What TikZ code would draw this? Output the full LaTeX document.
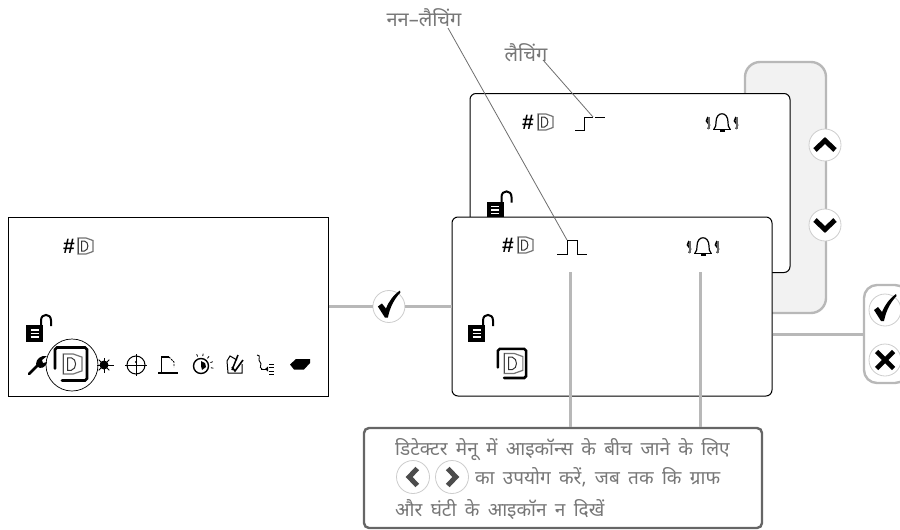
\documentclass[tikz,border=0pt]{standalone}
\usepackage{fontspec}
\setmainfont{Liberation Sans}
\newfontfamily\hindi[Script=Devanagari]{Noto Sans}
\newfontfamily\hindiwide[Script=Devanagari,WordSpace=1.69]{Noto Sans}
\usetikzlibrary{positioning}
\definecolor{wiregray}{HTML}{B8B8B8}
\definecolor{leadgray}{HTML}{6E6E6E}
\definecolor{textgray}{HTML}{777777}
\definecolor{panelgray}{HTML}{F2F2F2}
\definecolor{framegray}{HTML}{666666}

\tikzset{
  screen/.style={draw=black, fill=white, line width=1pt, minimum width=320pt, minimum height=179pt, inner sep=0pt},
  wire/.style={draw=wiregray, line width=3pt},
  lead/.style={draw=leadgray, line width=0.8pt},
  softkey/.style={circle, draw=wiregray!70, fill=white, line width=0.8pt, minimum size=32pt, inner sep=0pt},
  tag/.style={font=\hindi\fontsize{20}{20}\selectfont, text=textgray, inner sep=0pt},
  note/.style={font=\hindiwide\fontsize{19}{19}\selectfont, text=textgray, inner sep=0pt, anchor=west},
  hashmark/.style={font=\bfseries\fontsize{21}{21}\selectfont, inner sep=0pt},
  pics/detector/.style={code={
    \draw[black!55, line width=1.2pt, fill=white] (-7,-8) -- (1,-8) -- (8,-5.5) -- (8,5.5) -- (1,8) -- (-7,8) -- cycle;
    \draw[black!80, line width=1pt] (-3.5,-5) -- (-0.5,-5) .. controls (4,-4) and (4,4) .. (-0.5,5) -- (-3.5,5) -- cycle;
    \draw[black!70, line width=1pt] (-7,-8) -- (-7,8);
  }},
  pics/boxframe/.style={code={
    \draw[line width=2.6pt, line cap=round] (-16,5) -- (-16,-14) -- (-14,-16) -- (14,-16) -- (16,-14) -- (16,15) -- (14,17) -- (-9,17);
    \pic[scale=1.25, line width=1.4pt] at (1,0.5) {detector};
  }},
  pics/padlock/.style={code={
    \fill[black] (-8.5,-8.5) rectangle (8.5,8.5);
    \draw[white, line width=1.1pt] (-4,-3.5) -- (4,-3.5) (-4,0) -- (4,0) (-4,3.5) -- (4,3.5);
    \draw[line width=2pt] (6.5,-8) -- (6.5,-13) .. controls (6.5,-20.5) and (16.5,-20.5) .. (16.5,-13) -- (16.5,-7.5);
  }},
  pics/alarm/.style={code={
    \draw[line width=1.2pt] (-8,6) .. controls (-6,4) and (-6,2) .. (-6,-1) .. controls (-6,-12) and (6,-12) .. (6,-1) .. controls (6,2) and (6,4) .. (8,6);
    \draw[line width=1.8pt] (-9,6.5) -- (9,6.5);
    \fill (-2.5,7) rectangle (2.5,9);
    \foreach \sidex in {-14,14} {
      \draw[line width=1.6pt] (\sidex,-6) -- (\sidex-1.5,-2) -- (\sidex+1.5,2) -- (\sidex,6);
      \draw[black!60, line width=1.2pt] (\sidex+1,-6) -- (\sidex+1,6);
    }
  }},
  pics/wrench/.style={code={
    \draw[line width=2.8pt, line cap=round] (-8,9) -- (2,-1);
    \fill (-1,-1) .. controls (-1,-6) and (4,-10) .. (10,-9) -- (5,-5) -- (6,-2) -- (10,-3) .. controls (9,3) and (3,4) .. (1,2) -- cycle;
  }},
  pics/burst/.style={code={
    \fill (0,0) circle (4.5);
    \foreach \ang in {0,45,...,315} \draw[line width=0.9pt] (0,0) -- (\ang:7.5);
    \draw[line width=1pt] (0,0) -- (9.5,0);
  }},
  pics/crosshair/.style={code={
    \draw[line width=1pt] (0,0) circle (9);
    \draw[line width=0.9pt] (-11,0) -- (11,0) (0,-11) -- (0,11);
    \fill (0,-3) circle (1.2);
  }},
  pics/slope/.style={code={
    \draw[line width=1.6pt] (-10,8) -- (10,8);
    \draw[line width=1.2pt] (-6.5,8) -- (-6.5,-8) -- (1,-8);
    \draw[line width=0.8pt, dash pattern=on 2pt off 1pt] (1,-8) -- (6,-3) -- (6,2);
  }},
  pics/stopwatch/.style={code={
    \draw[line width=1.4pt] (0,0) circle (7.5);
    \fill (0,0) -- (0,-5) -- (4,-3) -- (5,1) -- (1,4) -- cycle;
    \foreach \ang in {-110,-80,-50,-20,10} \draw[line width=0.8pt] (\ang:10) -- (\ang:12.5);
  }},
  pics/pencilnote/.style={code={
    \draw[line width=1pt] (-8,-3) -- (-5,-8) -- (2,-4) (-8,-3) -- (-7,9) -- (7,9) -- (7,0);
    \draw[line width=1.6pt] (-3,3) -- (0,7) -- (8,-4);
    \draw[line width=1.5pt] (-3,6) -- (3,-9);
  }},
  pics/relay/.style={code={
    \draw[line width=0.9pt] (-8,-10) .. controls (-3,-10) and (-8,-5) .. (-5,-3) .. controls (-2,-1) and (-7,2) .. (-3,4);
    \draw[line width=1pt] (-4,4) -- (3,4);
    \fill (3,1.5) -- (3,6.5) -- (0,4) -- cycle;
    \draw[line width=1pt] (4,-1) -- (9,-1) (4,2) -- (9,2) (4,6) -- (9,6) (4,9) -- (9,9);
  }},
  pics/chip/.style={code={
    \fill (-10,0.5) -- (-4,-5) -- (10,-5) -- (10,-1) -- (4,5.5) -- (-6,5.5) -- cycle;
  }},
  pics/caret/.style={code={
    \draw[line width=5pt, miter limit=10] (-10,5) -- (0,-4.5) -- (10,5);
  }},
  pics/tickmark/.style={code={
    \fill (-11,1) -- (-7,-2) -- (-3,3) .. controls (0,-4) and (4,-10) .. (11,-15) -- (11.5,-13) .. controls (5,-6) and (1,2) .. (-1,12) -- (-4,12) -- cycle;
  }},
  pics/crossmark/.style={code={
    \draw[line width=4.6pt] (-8.5,-8.5) -- (8.5,8.5) (-8.5,8.5) -- (8.5,-8.5);
  }},
}

\begin{document}
\begin{tikzpicture}[x=1pt, y=-1pt]
        \useasboundingbox (0,0) rectangle (900,530);

        % NODES
        % -----------------

        \node[draw=wiregray, fill=panelgray, line width=2.4pt, rounded corners=15pt, minimum width=81pt, minimum height=251pt, inner sep=0pt] (scroll_panel) at (785.5,187.5) {};
        \node[screen, rounded corners=6pt] (latch_screen) at (630,183) {};
        \pic at (495,210) {padlock};
        \node[screen, rounded corners=6pt] (detector_screen) at (612,306.5) {};
        \node[screen] (menu_screen) at (168,306.5) {};

        \node[softkey] (up_key) at (825,145) {};
        \node[softkey] (down_key) at (825,225) {};
        \node[softkey, right=44pt of menu_screen] (menu_ok) {};
        \node[draw=wiregray, line width=2.4pt, rounded corners=13pt, minimum width=44pt, minimum height=98pt, inner sep=0pt] (action_pill) at (886,334) {};
        \node[softkey] (accept_key) at (885,310) {};
        \node[softkey] (reject_key) at (885,360) {};

        % Labels
        \node[tag] (nonlatch_tag) at (424,18) {नन–लैचिंग};
        \node[tag] (latch_tag) at (526,53) {लैचिंग};

        % Menu screen
        \node[hashmark] (hash_menu) at (69,246) {\#};
        \pic at ([xshift=16pt]hash_menu.center) {detector};
        \pic at (34.5,333.5) {padlock};
        \pic at (37,365) {wrench};
        \pic at (71,363.5) {boxframe};
        \node[circle, draw=black, line width=0.7pt, minimum size=52pt, inner sep=0pt] (menu_ring) at (72,365) {};
        \pic at (104,365) {burst};
        \pic at (136,365) {crosshair};
        \pic at (168,365) {slope};
        \pic at (201,366) {stopwatch};
        \pic at (235,364) {pencilnote};
        \pic at (265,365) {relay};
        \pic at (300,364) {chip};

        % Back screen
        \node[hashmark] (hash_latch) at (528,122) {\#};
        \pic at ([xshift=17pt]hash_latch.center) {detector};
        \pic at (722,123) {alarm};
        \coordinate (step_low) at (575,130);
        \coordinate (step_rise) at (584,130);
        \coordinate (step_top) at (584,117);
        \coordinate (step_high) at (593,117);
        \draw[line width=1pt] (step_low) -- (step_rise) -- (step_top) -- (step_high);
        \draw[line width=1pt] (595,117) -- (605,117);

        % Front screen
        \node[hashmark] (hash_front) at (508,245) {\#};
        \pic at ([xshift=17pt]hash_front.center) {detector};
        \pic at (703,247) {alarm};
        \pic at (476.5,333.5) {padlock};
        \pic[scale=0.88] at (512,363) {boxframe};
        \coordinate (pulse_start) at (557,254);
        \coordinate (pulse_up) at (567,240);
        \coordinate (pulse_down) at (577,240);
        \coordinate (pulse_end) at (587,254);
        \draw[line width=1pt] (pulse_start) -- (pulse_up |- pulse_start) -- (pulse_up) -- (pulse_down) -- (pulse_down |- pulse_end) -- (pulse_end);

        % Hint box
        \node[draw=framegray, line width=2.4pt, rounded corners=5pt, minimum width=398pt, minimum height=100pt, inner sep=0pt] (hint_box) at (563,478) {};
        \node[note] (hint_one) at (395,450) {डिटेक्टर मेनू में आइकॉन्स के बीच जाने के लिए};
        \node[softkey, minimum size=33pt] (left_key) at (413,477) {};
        \node[softkey, minimum size=33pt] (right_key) at (452,477) {};
        \node[note, right=6pt of right_key] (hint_two) {का उपयोग करें, जब तक कि ग्राफ};
        \node[note] (hint_three) at (395,510) {और घंटी के आइकॉन न दिखें};

        % Key glyphs
        \pic at (up_key) {caret};
        \pic[yscale=-1] at (down_key) {caret};
        \pic[rotate=90, scale=0.85, draw=black!70] at (left_key) {caret};
        \pic[rotate=-90, scale=0.85, draw=black!70] at (right_key) {caret};
        \pic at ([yshift=1pt]menu_ok) {tickmark};
        \pic at ([yshift=1pt]accept_key) {tickmark};
        \pic at (reject_key) {crossmark};

        % EDGES
        % -----------------
        \draw[wire] (menu_screen.east |- menu_ok) -- (menu_ok);
        \draw[wire] (menu_ok) -- (detector_screen.west |- menu_ok);
        \draw[wire] (detector_screen.east |- action_pill) -- (action_pill.west);
        \draw[wire] (570.5,272) -- (hint_box.north -| 570.5,0);
        \draw[wire] (700.5,272) -- (hint_box.north -| 700.5,0);
        \coordinate (nonlatch_foot) at (448,28);
        \coordinate (latch_foot) at (543,60);
        \draw[lead] (nonlatch_foot) -- (pulse_up);
        \draw[lead] (latch_foot) -- (step_high);

\end{tikzpicture}
\end{document}
